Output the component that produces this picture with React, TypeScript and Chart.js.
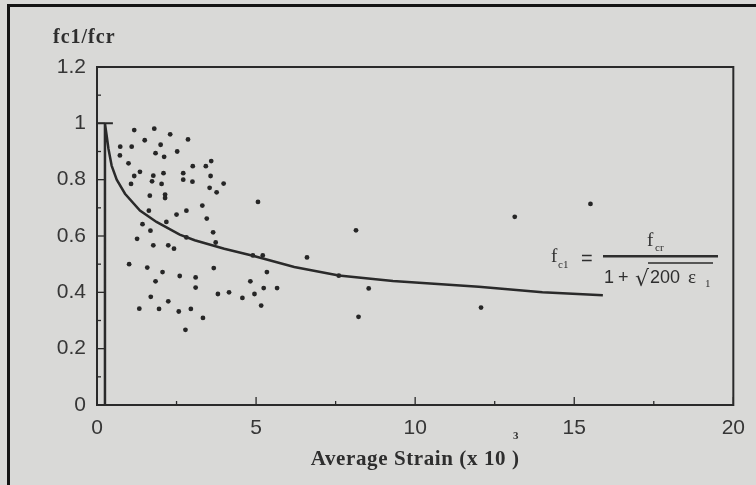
import React, { useEffect, useRef } from "react";
import { Chart, registerables } from "chart.js";
Chart.register(...registerables);

const X_TICKS = [0, 5, 10, 15, 20];
const X_LABELS = ["0", "5", "10", "15", "20"];
const Y_TICKS = [0, 0.2, 0.4, 0.6, 0.8, 1, 1.2];
const Y_LABELS = ["0", "0.2", "0.4", "0.6", "0.8", "1", "1.2"];
const X_MINOR = [2.5, 7.5, 12.5, 17.5];
const Y_MINOR = [0.1, 0.3, 0.5, 0.7, 0.9, 1.1];

const CURVE_X = [0.25, 0.25, 0.3, 0.36, 0.46, 0.62, 0.88, 1.35, 1.87, 2.6, 3.07, 4.0, 4.9, 6.2, 7.6, 9.3, 12.0, 14.0, 15.9];
const CURVE_Y = [0, 1.0, 0.96, 0.91, 0.85, 0.8, 0.75, 0.69, 0.65, 0.605, 0.585, 0.555, 0.53, 0.49, 0.46, 0.44, 0.42, 0.4, 0.39];
const CAP_X = [0, 0.5];
const CAP_Y = [1, 1];

const TEST_X = [
  1.17, 1.8, 2.3, 1.5, 2.86, 0.73, 1.09, 2.0, 0.72, 1.84, 2.11, 2.52, 0.99, 3.01, 3.42, 3.59, 1.35, 1.17, 1.77, 2.09,
  2.71, 3.57, 1.07, 1.73, 2.03, 2.71, 3.0, 3.98, 3.54, 3.76, 2.14, 2.14, 1.66, 5.06, 3.31, 2.81, 1.63, 2.5, 3.45, 2.18,
  1.43, 1.68, 3.65, 1.26, 2.81, 3.73, 1.77, 2.24, 2.42, 4.9, 5.21, 6.6, 1.01, 1.58, 3.67, 2.06, 5.34, 7.6, 2.6, 3.1,
  1.84, 4.82, 3.1, 5.24, 5.66, 8.54, 4.15, 3.8, 4.95, 1.69, 4.57, 2.24, 5.16, 12.07, 1.33, 1.95, 2.95, 2.57, 3.33, 8.22,
  2.78, 8.14, 13.13, 15.51,
];
const TEST_Y = [
  0.976, 0.981, 0.961, 0.94, 0.943, 0.917, 0.917, 0.924, 0.886, 0.894, 0.881, 0.9, 0.858, 0.848, 0.848, 0.866, 0.828, 0.813, 0.814, 0.823,
  0.823, 0.813, 0.785, 0.794, 0.785, 0.8, 0.793, 0.786, 0.771, 0.755, 0.747, 0.735, 0.743, 0.721, 0.708, 0.69, 0.69, 0.676, 0.662, 0.65,
  0.642, 0.619, 0.613, 0.59, 0.595, 0.577, 0.567, 0.567, 0.555, 0.531, 0.531, 0.524, 0.5, 0.488, 0.486, 0.472, 0.472, 0.459, 0.458, 0.453,
  0.439, 0.439, 0.417, 0.415, 0.415, 0.414, 0.4, 0.394, 0.394, 0.384, 0.38, 0.368, 0.353, 0.346, 0.342, 0.341, 0.341, 0.332, 0.309, 0.313,
  0.267, 0.62, 0.668, 0.714,
];

const BG = "#d9d9d7";
const INK = "#2a2a2a";
const TEXT = "#363636";

const decor = {
  id: "decor",
  beforeDraw(chart: any) {
    const { ctx, width, height } = chart;
    ctx.save();
    ctx.fillStyle = BG;
    ctx.fillRect(0, 0, width, height);
    ctx.strokeStyle = "#141414";
    ctx.lineWidth = 3;
    ctx.beginPath();
    ctx.moveTo(8.5, height);
    ctx.lineTo(8.5, 5.5);
    ctx.lineTo(width, 5.5);
    ctx.stroke();
    ctx.restore();
  },
  afterDatasetsDraw(chart: any) {
    const { ctx, chartArea: a, scales } = chart;
    const x = scales.x;
    const y = scales.y;
    ctx.save();
    ctx.strokeStyle = INK;
    ctx.lineWidth = 2;
    ctx.strokeRect(a.left, a.top, a.right - a.left, a.bottom - a.top);
    ctx.lineWidth = 1.3;
    const seg = (x1: number, y1: number, x2: number, y2: number) => {
      ctx.beginPath();
      ctx.moveTo(x1, y1);
      ctx.lineTo(x2, y2);
      ctx.stroke();
    };
    Y_TICKS.forEach((v) => { const p = y.getPixelForValue(v); seg(a.left, p, a.left + 8, p); });
    Y_MINOR.forEach((v) => { const p = y.getPixelForValue(v); seg(a.left, p, a.left + 4, p); });
    X_TICKS.forEach((v) => { const p = x.getPixelForValue(v); seg(p, a.bottom, p, a.bottom - 8); });
    X_MINOR.forEach((v) => { const p = x.getPixelForValue(v); seg(p, a.bottom, p, a.bottom - 4); });

    ctx.fillStyle = "#2e2e2e";
    ctx.textBaseline = "alphabetic";
    // y title
    ctx.font = 'bold 20px "Liberation Serif"';
    (ctx as any).letterSpacing = "1px";
    ctx.textAlign = "left";
    ctx.fillText("fc1/fcr", 53, 43);
    // x title
    ctx.font = 'bold 21px "Liberation Serif"';
    (ctx as any).letterSpacing = "0.6px";
    const main = "Average Strain (x 10 ";
    const w1 = ctx.measureText(main).width;
    const w2 = ctx.measureText(")").width;
    const startX = (a.left + a.right) / 2 - (w1 + w2) / 2;
    ctx.fillText(main, startX, 465);
    ctx.fillText(")", startX + w1, 465);
    (ctx as any).letterSpacing = "0px";
    ctx.font = 'bold 11px "Liberation Serif"';
    ctx.fillText("3", startX + w1 + 1, 439);

    // formula
    ctx.font = '19px "Liberation Serif"';
    ctx.fillText("f", 551, 262);
    ctx.font = '11px "Liberation Serif"';
    ctx.fillText("c1", 558, 268);
    ctx.font = '20px "Liberation Sans"';
    ctx.fillText("=", 581, 265);
    ctx.font = '19px "Liberation Serif"';
    ctx.fillText("f", 647, 246);
    ctx.font = '11px "Liberation Serif"';
    ctx.fillText("cr", 655, 251);
    ctx.fillRect(603, 255, 115, 2.5);
    ctx.font = '18px "Liberation Sans"';
    ctx.fillText("1", 604, 283);
    ctx.fillText("+", 618, 283);
    ctx.font = '22px "DejaVu Sans"';
    ctx.fillText("\u221A", 635, 286);
    ctx.lineWidth = 1.3;
    seg(648, 263, 713, 263);
    ctx.font = '18px "Liberation Sans"';
    ctx.fillText("200", 650, 283);
    ctx.font = '19px "Liberation Serif"';
    ctx.fillText("\u03B5", 688, 283);
    ctx.font = '11px "Liberation Serif"';
    ctx.fillText("1", 705, 287);
    ctx.restore();
  },
};

export default function App() {
  const ref = useRef<HTMLCanvasElement>(null);
  useEffect(() => {
    const curve = CURVE_X.map((v, i) => ({ x: v, y: CURVE_Y[i] }));
    const cap = CAP_X.map((v, i) => ({ x: v, y: CAP_Y[i] }));
    const pts = TEST_X.map((v, i) => ({ x: v, y: TEST_Y[i] }));
    const tickFont = { family: '"Liberation Sans"', size: 21 };
    const chart = new Chart(ref.current as HTMLCanvasElement, {
      type: "scatter",
      data: {
        datasets: [
          {
            type: "line",
            data: curve,
            borderColor: INK,
            borderWidth: 2.5,
            pointRadius: 0,
            tension: 0,
            showLine: true,
          } as any,
          {
            type: "line",
            data: cap,
            borderColor: INK,
            borderWidth: 2,
            pointRadius: 0,
            showLine: true,
          } as any,
          {
            data: pts,
            backgroundColor: "#262626",
            pointRadius: 2.4,
            borderWidth: 0,
          },
        ],
      },
      options: {
        animation: false,
        responsive: true,
        maintainAspectRatio: false,
        layout: { padding: { left: 0, top: 67, right: 21, bottom: 0 } },
        plugins: { legend: { display: false }, tooltip: { enabled: false } },
        scales: {
          x: {
            type: "linear",
            min: 0,
            max: 20,
            grid: { display: false, drawTicks: false },
            border: { display: false },
            afterBuildTicks: (s: any) => { s.ticks = X_TICKS.map((v) => ({ value: v })); },
            afterFit: (s: any) => { s.height = 80; },
            ticks: {
              color: TEXT,
              font: tickFont,
              padding: 11,
              maxRotation: 0,
              callback: (v: any) => { const i = X_TICKS.indexOf(Number(v)); return i >= 0 ? X_LABELS[i] : ""; },
            },
          },
          y: {
            type: "linear",
            min: 0,
            max: 1.2,
            grid: { display: false, drawTicks: false },
            border: { display: false },
            afterBuildTicks: (s: any) => { s.ticks = Y_TICKS.map((v) => ({ value: v })); },
            afterFit: (s: any) => { s.width = 97; },
            ticks: {
              color: TEXT,
              font: tickFont,
              padding: 11,
              callback: (v: any) => {
                const i = Y_TICKS.findIndex((t) => Math.abs(t - Number(v)) < 1e-9);
                return i >= 0 ? Y_LABELS[i] : "";
              },
            },
          },
        },
      },
      plugins: [decor],
    });
    return () => chart.destroy();
  }, []);
  return (
    <div style={{ position: "absolute", left: 0, top: 0, width: 756, height: 485 }}>
      <canvas ref={ref} />
    </div>
  );
}
